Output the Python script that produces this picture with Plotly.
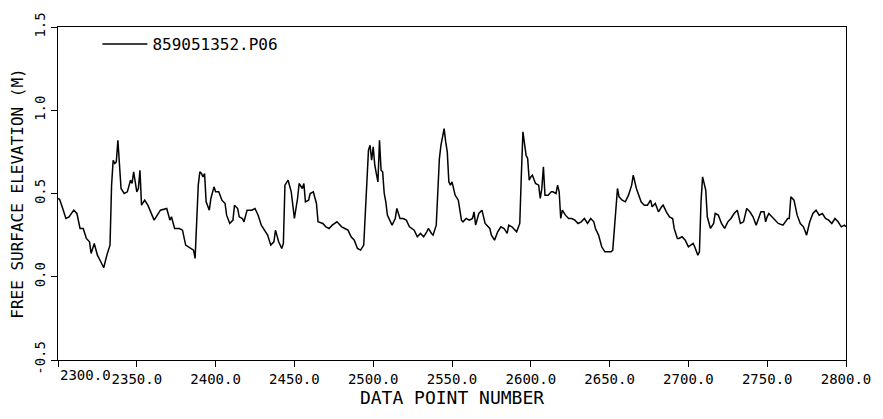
import plotly.graph_objects as go

# Data point numbers (x) and free surface elevation (m)
x_pts = [2300, 2301, 2303, 2305, 2307, 2310, 2312, 2314, 2316, 2318, 2320, 2321, 2323, 2325, 2327, 2329, 2331, 2333,
         2334, 2335, 2336, 2337, 2338, 2339, 2340, 2342, 2344, 2346, 2347, 2348, 2349, 2350, 2351, 2352, 2353, 2355,
         2357, 2359, 2361, 2363, 2365, 2369, 2371, 2372, 2374, 2377, 2379, 2381, 2383, 2385, 2386, 2387, 2388, 2389,
         2390, 2391, 2392, 2393, 2394, 2396, 2397, 2399, 2400, 2402, 2404, 2406, 2407, 2409, 2411, 2412, 2414, 2415,
         2417, 2418, 2420, 2423, 2425, 2427, 2429, 2431, 2433, 2435, 2437, 2438, 2440, 2442, 2443, 2444, 2446, 2448,
         2450, 2452, 2453, 2455, 2456, 2457, 2459, 2460, 2462, 2464, 2465, 2468, 2470, 2472, 2474, 2477, 2480, 2482,
         2484, 2486, 2488, 2490, 2492, 2494, 2495, 2496, 2497, 2498, 2499, 2500, 2501, 2502, 2503, 2504, 2505, 2506,
         2507, 2508, 2509, 2511, 2512, 2514, 2515, 2517, 2519, 2521, 2523, 2526, 2528, 2530, 2532, 2534, 2535, 2537,
         2538, 2540, 2541, 2542, 2543, 2544, 2545, 2546, 2547, 2548, 2549, 2550, 2552, 2554, 2556, 2557, 2559, 2561,
         2563, 2564, 2565, 2567, 2569, 2571, 2574, 2575, 2577, 2579, 2581, 2583, 2585, 2586, 2588, 2591, 2593, 2594,
         2595, 2596, 2597, 2598, 2599, 2600, 2601, 2603, 2605, 2606, 2607, 2608, 2609, 2610, 2611, 2613, 2614, 2616,
         2617, 2618, 2619, 2620, 2622, 2624, 2626, 2628, 2630, 2632, 2634, 2636, 2638, 2640, 2641, 2643, 2645, 2647,
         2649, 2651, 2652, 2653, 2654, 2655, 2656, 2658, 2660, 2662, 2664, 2665, 2667, 2668, 2670, 2672, 2674, 2676,
         2677, 2679, 2681, 2683, 2684, 2686, 2688, 2690, 2691, 2693, 2694, 2696, 2698, 2700, 2703, 2704, 2706, 2707,
         2708, 2709, 2710, 2711, 2712, 2714, 2716, 2717, 2719, 2721, 2723, 2725, 2727, 2729, 2731, 2732, 2733, 2735,
         2737, 2739, 2741, 2743, 2745, 2746, 2748, 2749, 2750, 2751, 2753, 2755, 2757, 2760, 2762, 2763, 2764, 2765,
         2767, 2769, 2771, 2773, 2775, 2777, 2779, 2781, 2783, 2785, 2787, 2789, 2791, 2793, 2795, 2797, 2799, 2800]
elevation = [0.47, 0.465, 0.41, 0.35, 0.36, 0.40, 0.38, 0.29, 0.29, 0.23, 0.21, 0.14, 0.20, 0.13, 0.093, 0.054, 0.13, 0.19,
             0.55, 0.70, 0.68, 0.69, 0.82, 0.67, 0.53, 0.50, 0.51, 0.58, 0.56, 0.63, 0.58, 0.51, 0.53, 0.64, 0.43, 0.46,
             0.43, 0.39, 0.34, 0.37, 0.40, 0.41, 0.34, 0.36, 0.29, 0.29, 0.28, 0.19, 0.18, 0.17, 0.16, 0.11, 0.35, 0.55,
             0.63, 0.62, 0.60, 0.62, 0.45, 0.40, 0.47, 0.54, 0.51, 0.51, 0.46, 0.44, 0.37, 0.32, 0.34, 0.43, 0.41, 0.36,
             0.35, 0.33, 0.40, 0.40, 0.41, 0.37, 0.31, 0.28, 0.25, 0.19, 0.21, 0.28, 0.21, 0.17, 0.20, 0.55, 0.58, 0.51,
             0.35, 0.47, 0.56, 0.53, 0.56, 0.45, 0.46, 0.50, 0.51, 0.44, 0.33, 0.32, 0.30, 0.29, 0.31, 0.33, 0.30, 0.29,
             0.28, 0.24, 0.22, 0.17, 0.16, 0.19, 0.41, 0.60, 0.76, 0.79, 0.70, 0.78, 0.67, 0.62, 0.57, 0.82, 0.64, 0.63,
             0.50, 0.45, 0.37, 0.33, 0.31, 0.35, 0.41, 0.35, 0.35, 0.34, 0.30, 0.28, 0.24, 0.26, 0.24, 0.27, 0.29, 0.26,
             0.25, 0.31, 0.55, 0.71, 0.79, 0.84, 0.89, 0.81, 0.75, 0.57, 0.55, 0.57, 0.49, 0.46, 0.34, 0.33, 0.35, 0.34,
             0.35, 0.39, 0.31, 0.38, 0.40, 0.32, 0.29, 0.25, 0.22, 0.27, 0.30, 0.29, 0.26, 0.31, 0.30, 0.27, 0.32, 0.61,
             0.87, 0.80, 0.73, 0.71, 0.58, 0.60, 0.61, 0.56, 0.55, 0.47, 0.53, 0.66, 0.49, 0.49, 0.49, 0.51, 0.51, 0.50,
             0.55, 0.51, 0.35, 0.40, 0.37, 0.35, 0.35, 0.34, 0.32, 0.33, 0.35, 0.32, 0.35, 0.33, 0.29, 0.25, 0.18, 0.15,
             0.15, 0.15, 0.16, 0.30, 0.43, 0.53, 0.48, 0.46, 0.45, 0.49, 0.55, 0.61, 0.53, 0.50, 0.45, 0.43, 0.43, 0.46,
             0.42, 0.44, 0.39, 0.42, 0.43, 0.39, 0.36, 0.35, 0.29, 0.23, 0.23, 0.24, 0.22, 0.18, 0.20, 0.18, 0.13, 0.15,
             0.45, 0.60, 0.55, 0.52, 0.36, 0.29, 0.32, 0.38, 0.37, 0.32, 0.29, 0.33, 0.35, 0.38, 0.40, 0.36, 0.32, 0.33,
             0.41, 0.39, 0.36, 0.31, 0.36, 0.39, 0.39, 0.33, 0.36, 0.38, 0.36, 0.34, 0.32, 0.31, 0.34, 0.35, 0.35, 0.48,
             0.46, 0.37, 0.32, 0.30, 0.25, 0.33, 0.38, 0.40, 0.37, 0.38, 0.35, 0.34, 0.32, 0.35, 0.33, 0.30, 0.31, 0.30]

x_ticks = [2300, 2350, 2400, 2450, 2500, 2550, 2600, 2650, 2700, 2750, 2800]
x_tick_labels = ["", "2350.0", "2400.0", "2450.0", "2500.0", "2550.0", "2600.0", "2650.0", "2700.0", "2750.0", "2800.0"]
y_ticks = [-0.5, 0.0, 0.5, 1.0, 1.5]
y_tick_labels = ["-0.5", "0.0", "0.5", "1.0", "1.5"]
series_name = "859051352.P06"

FONT = "DejaVu Sans Mono"

fig = go.Figure()
fig.add_trace(go.Scatter(x=x_pts, y=elevation, mode="lines", name=series_name,
                         line=dict(color="black", width=1.5), showlegend=True))

fig.update_layout(
    width=883, height=419,
    margin=dict(l=58, r=36, t=23, b=59),
    paper_bgcolor="white", plot_bgcolor="white",
    font=dict(family=FONT, color="black", size=14),
    showlegend=True,
    legend=dict(x=0.05, y=1.0, xanchor="left", yanchor="top", bgcolor="rgba(0,0,0,0)",
                font=dict(family=FONT, size=16), itemwidth=45, tracegroupgap=0),
    xaxis=dict(range=[2300, 2800], tickvals=x_ticks, ticktext=x_tick_labels,
               showgrid=False, zeroline=False, showline=True, linecolor="black", linewidth=1.2,
               mirror=True, ticks="outside", ticklen=6, tickcolor="black",
               tickfont=dict(family=FONT, size=14),
               title=dict(text="DATA POINT NUMBER", font=dict(family=FONT, size=18), standoff=4)),
    yaxis=dict(range=[-0.5, 1.5], tickvals=y_ticks, ticktext=y_tick_labels, tickangle=-90,
               showgrid=False, zeroline=False, showline=True, linecolor="black", linewidth=1.2,
               mirror=True, ticks="outside", ticklen=6, tickcolor="black",
               tickfont=dict(family=FONT, size=14),
               title=dict(text="FREE SURFACE ELEVATION (M)", font=dict(family=FONT, size=16), standoff=4)),
)
fig.add_annotation(x=2300, y=0, xref="x", yref="paper", text="2300.0", showarrow=False,
                   xanchor="left", yanchor="top", yshift=-5, font=dict(family=FONT, size=14))

fig.write_html("out.html")
